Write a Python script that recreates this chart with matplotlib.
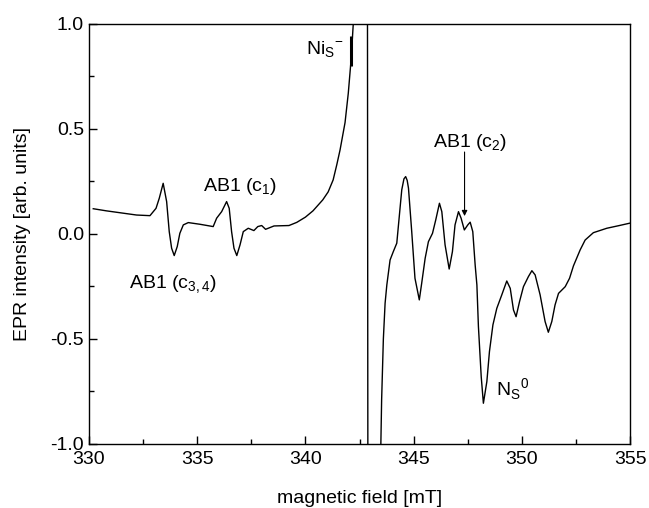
import numpy as np
import matplotlib
matplotlib.use("Agg")
import matplotlib.pyplot as plt
from matplotlib.ticker import MultipleLocator

plt.rcParams["font.family"] = ["Liberation Sans", "DejaVu Sans"]
plt.rcParams["mathtext.fontset"] = "custom"
plt.rcParams["mathtext.rm"] = "Liberation Sans"

# EPR spectrum (field in mT, intensity in arb. units)
field = [330.2, 330.8, 331.5, 332.2, 332.82, 333.1, 333.25, 333.43, 333.59, 333.71,
         333.82, 333.94, 334.08, 334.2, 334.36, 334.59, 335.13, 335.74, 335.9, 336.13,
         336.36, 336.48, 336.59, 336.7, 336.83, 336.98, 337.13, 337.36, 337.62, 337.8,
         337.98, 338.16, 338.55, 339.24, 339.6, 340.0, 340.35, 340.8, 341.05, 341.28,
         341.45, 341.6, 341.83, 341.98, 342.11, 342.21, 342.35, 342.6, 342.85, 342.9,
         343.2, 343.45, 343.52, 343.6, 343.68, 343.76, 343.91, 344.06, 344.22, 344.37,
         344.45, 344.55, 344.63, 344.7, 344.76, 344.91, 345.06, 345.26, 345.37, 345.53,
         345.68, 345.87, 346.02, 346.19, 346.3, 346.45, 346.64, 346.79, 346.91, 347.07,
         347.19, 347.34, 347.5, 347.61, 347.73, 347.84, 347.92, 347.99, 348.12, 348.22,
         348.38, 348.5, 348.66, 348.84, 349.07, 349.3, 349.46, 349.61, 349.73, 349.89,
         350.07, 350.3, 350.46, 350.61, 350.84, 351.07, 351.22, 351.38, 351.53, 351.69,
         352.0, 352.2, 352.38, 352.69, 352.92, 353.3, 353.92, 354.5, 354.97]
intensity = [0.12, 0.11, 0.10, 0.09, 0.087, 0.122, 0.17, 0.241, 0.154, 0.011,
             -0.068, -0.103, -0.06, 0.003, 0.043, 0.054, 0.046, 0.035, 0.075, 0.106,
             0.154, 0.122, 0.011, -0.068, -0.103, -0.052, 0.011, 0.027, 0.016, 0.035,
             0.040, 0.022, 0.038, 0.040, 0.055, 0.08, 0.11, 0.162, 0.20, 0.257,
             0.33, 0.40, 0.53, 0.67, 0.83, 1.0, 1.4, 2.0, 3.0, -3.0,
             -2.0, -1.2, -0.79, -0.5, -0.33, -0.243, -0.124, -0.084, -0.044, 0.122,
             0.21, 0.262, 0.273, 0.255, 0.218, 0.011, -0.211, -0.314, -0.235, -0.116,
             -0.037, 0.003, 0.067, 0.146, 0.106, -0.052, -0.167, -0.084, 0.043, 0.106,
             0.075, 0.019, 0.043, 0.056, 0.011, -0.148, -0.243, -0.44, -0.68, -0.806,
             -0.703, -0.56, -0.433, -0.354, -0.29, -0.224, -0.259, -0.362, -0.394, -0.322,
             -0.251, -0.203, -0.175, -0.195, -0.29, -0.417, -0.468, -0.417, -0.338, -0.283,
             -0.251, -0.211, -0.152, -0.076, -0.029, 0.006, 0.027, 0.04, 0.051]

fig, ax = plt.subplots(figsize=(6.49, 5.08), dpi=100)
fig.subplots_adjust(left=0.137, right=0.971, top=0.953, bottom=0.126)

ax.plot(field, intensity, color="black", linewidth=1.0)
# marker bar next to the Ni_S^- line
ax.plot([342.1, 342.1], [0.80, 0.94], color="black", linewidth=2.2, solid_capstyle="butt")

ax.set_xlim(330, 355)
ax.set_ylim(-1.0, 1.0)
ax.xaxis.set_major_locator(MultipleLocator(5))
ax.xaxis.set_minor_locator(MultipleLocator(2.5))
ax.yaxis.set_major_locator(MultipleLocator(0.5))
ax.yaxis.set_minor_locator(MultipleLocator(0.25))
ax.yaxis.set_major_formatter(plt.FuncFormatter(lambda y, _: f"{y:.1f}"))
ax.tick_params(which="both", direction="in", top=False, right=False, labelsize=14)
ax.tick_params(which="major", length=6, width=1.0)
ax.tick_params(which="minor", length=3.5, width=1.0)
ax.tick_params(axis="x", pad=5)
for s in ax.spines.values():
    s.set_linewidth(1.0)

ax.set_xlabel("magnetic field [mT]", fontsize=14, labelpad=16)
ax.set_ylabel("EPR intensity [arb. units]", fontsize=14, labelpad=14)

fs = 14
ax.text(340.9, 0.875, r"Ni$_\mathregular{S}$$^\mathregular{-}$", fontsize=fs, ha="center", va="center")
ax.text(337.0, 0.225, r"AB1 (c$_\mathregular{1}$)", fontsize=fs, ha="center", va="center")
ax.text(333.9, -0.245, r"AB1 (c$_\mathregular{3,4}$)", fontsize=fs, ha="center", va="center")
ax.text(347.6, 0.435, r"AB1 (c$_\mathregular{2}$)", fontsize=fs, ha="center", va="center")
ax.text(349.55, -0.74, r"N$_\mathregular{S}$$^\mathregular{0}$", fontsize=fs, ha="center", va="center")
ax.annotate("", xy=(347.35, 0.085), xytext=(347.35, 0.39),
            arrowprops=dict(arrowstyle="-|>", color="black", lw=0.8,
                            mutation_scale=8, shrinkA=0, shrinkB=0))

fig.savefig("out.png", dpi=100)
